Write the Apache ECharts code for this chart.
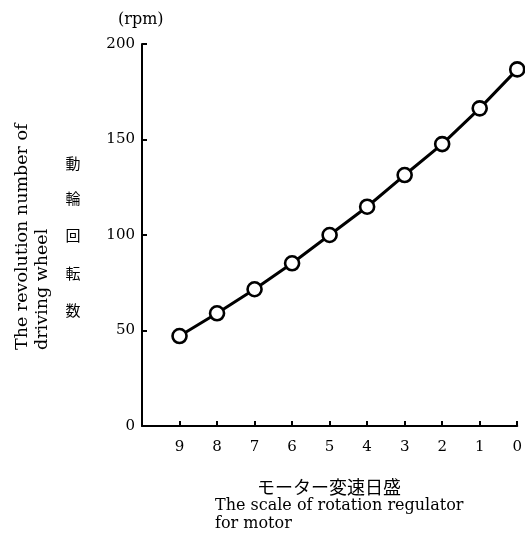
<!DOCTYPE html>
<html>
<head>
<meta charset="utf-8">
<script src="https://cdn.jsdelivr.net/npm/echarts@6/dist/echarts.min.js"></script>
<style>
  html, body { margin: 0; padding: 0; background: #fff; }
  #chart { width: 525px; height: 539px; }
</style>
</head>
<body>
<div id="chart"></div>
<script>
// Regulator scale settings (9 → 0) and driving-wheel speed in rpm
const regulatorScale = [9, 8, 7, 6, 5, 4, 3, 2, 1, 0];
const wheelRpm = [47.1, 59.0, 71.6, 85.2, 100.0, 114.8, 131.4, 147.6, 166.3, 186.7];
const yTicks = [0, 50, 100, 150, 200];

const serif = '"DejaVu Serif", "Liberation Serif", serif';
const jp = '"Noto Sans CJK JP", sans-serif';

const chart = echarts.init(document.getElementById('chart'), null, { renderer: 'canvas' });

// vertical Japanese axis title, one character per line
const jpTitle = ['動', '輪', '回', '転', '数'];
const jpTitleY = [163, 198, 235, 273, 310];

chart.setOption({
  backgroundColor: '#fff',
  animation: false,
  grid: { left: 142, right: 3, top: 44, bottom: 113, containLabel: false },
  xAxis: {
    type: 'value',
    inverse: true,
    min: 0,
    max: 10,
    interval: 1,
    axisLine: { onZero: false, lineStyle: { color: '#000', width: 2 } },
    axisTick: { inside: true, length: 5, lineStyle: { color: '#000', width: 2 } },
    splitLine: { show: false },
    axisLabel: {
      margin: 14,
      color: '#000',
      fontFamily: serif,
      fontSize: 15,
      formatter: v => (regulatorScale.indexOf(v) >= 0 ? String(v) : '')
    }
  },
  yAxis: {
    type: 'value',
    position: 'left',
    min: yTicks[0],
    max: yTicks[yTicks.length - 1],
    interval: 50,
    axisLine: { show: true, onZero: false, lineStyle: { color: '#000', width: 2 } },
    axisTick: { show: true, inside: true, length: 5, lineStyle: { color: '#000', width: 2 } },
    splitLine: { show: false },
    axisLabel: {
      margin: 7,
      color: '#000',
      fontFamily: serif,
      fontSize: 15
    }
  },
  series: [{
    type: 'line',
    data: regulatorScale.map((s, i) => [s, wheelRpm[i]]),
    symbol: 'circle',
    symbolSize: 14,
    showAllSymbol: true,
    lineStyle: { color: '#000', width: 3 },
    itemStyle: { color: '#fff', borderColor: '#000', borderWidth: 2.6 },
    z: 3
  }],
  graphic: [
    { type: 'text', x: 118, y: 20,
      style: { text: '(rpm)', font: '16px ' + serif, fill: '#000', verticalAlign: 'middle' } },
    { type: 'text', x: 22, y: 350, rotation: Math.PI / 2,
      style: { text: 'The revolution number of', font: '17.5px ' + serif, fill: '#000',
               align: 'left', verticalAlign: 'middle' } },
    { type: 'text', x: 42, y: 350, rotation: Math.PI / 2,
      style: { text: 'driving wheel', font: '17.5px ' + serif, fill: '#000',
               align: 'left', verticalAlign: 'middle' } }
  ].concat(jpTitle.map((ch, i) => ({
    type: 'text', x: 73, y: jpTitleY[i],
    style: { text: ch, font: '15px ' + jp, fill: '#000', align: 'center', verticalAlign: 'middle' }
  }))).concat([
    { type: 'text', x: 329, y: 487,
      style: { text: 'モーター変速日盛', font: '18px ' + jp, fill: '#000', align: 'center', verticalAlign: 'middle' } },
    { type: 'text', x: 215, y: 506,
      style: { text: 'The scale of rotation regulator', font: '16px ' + serif, fill: '#000',
               align: 'left', verticalAlign: 'middle' } },
    { type: 'text', x: 215, y: 524,
      style: { text: 'for motor', font: '16px ' + serif, fill: '#000',
               align: 'left', verticalAlign: 'middle' } }
  ])
});
</script>
</body>
</html>
